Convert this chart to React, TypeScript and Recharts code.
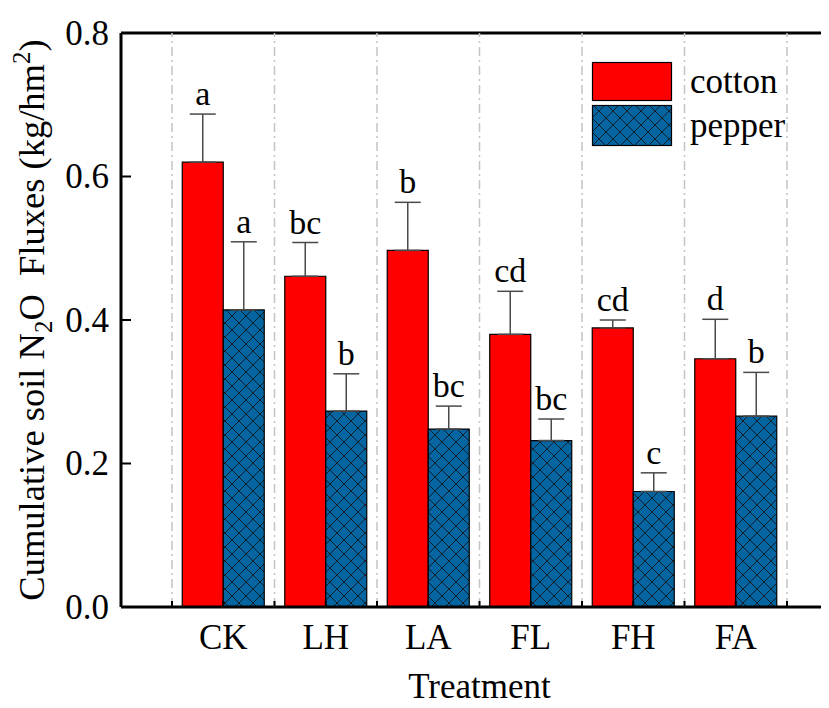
import React from 'react';
import {
  BarChart,
  Bar,
  XAxis,
  YAxis,
  ErrorBar,
  LabelList,
  ReferenceLine,
  Label,
} from 'recharts';

// Treatments on the x axis
const treatments = ['CK', 'LH', 'LA', 'FL', 'FH', 'FA'];

// Cumulative soil N2O fluxes (kg/hm2) and their standard errors
const cottonFlux = [0.62, 0.461, 0.497, 0.38, 0.389, 0.346];
const cottonErr = [0.067, 0.047, 0.067, 0.06, 0.011, 0.055];
const pepperFlux = [0.414, 0.273, 0.248, 0.232, 0.161, 0.266];
const pepperErr = [0.095, 0.052, 0.032, 0.03, 0.026, 0.061];

// Significance letters above each bar
const cottonLetters = ['a', 'bc', 'b', 'cd', 'cd', 'd'];
const pepperLetters = ['a', 'b', 'bc', 'bc', 'c', 'b'];

// Y axis ticks
const yTicks = [0, 0.2, 0.4, 0.6, 0.8];

// Series names shown in the legend
const seriesNames = ['cotton', 'pepper'];

const data = treatments.map((t, i) => ({
  treatment: t,
  cotton: cottonFlux[i],
  cottonErr: [0, cottonErr[i]],
  cottonLetter: cottonLetters[i],
  pepper: pepperFlux[i],
  pepperErr: [0, pepperErr[i]],
  pepperLetter: pepperLetters[i],
}));

const FONT = '"Liberation Serif", "Times New Roman", serif';
const RED = '#ff0000';
const BLUE = '#0565a1';
const HATCH_LINE = '#13202c';
const CHART_W = 840;
const CHART_H = 700;
const MARGIN = { top: 25, right: 10, left: 0, bottom: 0 };

const HatchPattern = ({ id }: { id: string }) => (
  <pattern id={id} width={14} height={14} patternUnits="userSpaceOnUse">
    <rect width={14} height={14} fill={BLUE} />
    <path d="M-1,-1 L15,15 M15,-1 L-1,15" stroke={HATCH_LINE} strokeWidth={1} />
  </pattern>
);

const YTick = (props: any) => {
  const { x, y, payload } = props;
  return (
    <g>
      <line x1={x} x2={x + 10} y1={y} y2={y} stroke="#000" strokeWidth={2} />
      <text
        x={x - 12}
        y={y}
        dy="0.34em"
        textAnchor="end"
        fontSize={35}
        fontFamily={FONT}
        fill="#000"
      >
        {Number(payload.value).toFixed(1)}
      </text>
    </g>
  );
};

const XTick = (props: any) => {
  const { x, y, payload, index, visibleTicksCount } = props;
  const half = payload && payload.offset ? payload.offset : 51.25;
  const edges = [x - half];
  if (index === (visibleTicksCount ?? treatments.length) - 1) edges.push(x + half);
  return (
    <g>
      {edges.map((ex) => (
        <g key={ex}>
          <line
            x1={ex}
            x2={ex}
            y1={y}
            y2={MARGIN.top}
            stroke="#c4c4c4"
            strokeWidth={1.5}
            strokeDasharray="9 4 2 4"
          />
          <line x1={ex} x2={ex} y1={y} y2={y - 6} stroke="#000" strokeWidth={2} />
        </g>
      ))}
      <line x1={x} x2={x} y1={y} y2={y - 6} stroke="#000" strokeWidth={2} />
      <text
        x={x}
        y={y + 42}
        textAnchor="middle"
        fontSize={35}
        fontFamily={FONT}
        fill="#000"
      >
        {payload.value}
      </text>
    </g>
  );
};

const makeLetter = (values: number[], errs: number[]) => (props: any) => {
  const { x, y, width, height, value, index } = props;
  const v = values[index];
  const pxPerUnit = Number(height) / v;
  const top = Number(y) - errs[index] * pxPerUnit;
  return (
    <text
      x={Number(x) + Number(width) / 2}
      y={top - 9}
      textAnchor="middle"
      fontSize={34}
      fontFamily={FONT}
      fill="#000"
    >
      {value}
    </text>
  );
};

const YTitle = (props: any) => {
  const vb = props.viewBox || {};
  const cx = 36;
  const cy = vb.y + vb.height / 2;
  return (
    <text
      x={cx}
      y={cy}
      transform={`rotate(-90, ${cx}, ${cy})`}
      textAnchor="middle"
      fontSize={36.5}
      fontFamily={FONT}
      fill="#000"
    >
      Cumulative soil N
      <tspan fontSize={25} dy={8}>
        2
      </tspan>
      <tspan dy={-8}>O{'\u00a0'} Fluxes (kg/hm</tspan>
      <tspan fontSize={25} dy={-14}>
        2
      </tspan>
      <tspan dy={14}>)</tspan>
    </text>
  );
};

const XTitle = (props: any) => {
  const vb = props.viewBox || {};
  return (
    <text
      x={vb.x + vb.width / 2}
      y={CHART_H - 10}
      textAnchor="middle"
      fontSize={35}
      fontFamily={FONT}
      fill="#000"
    >
      Treatment
    </text>
  );
};

const LegendBox = () => (
  <svg width={200} height={92} style={{ display: 'block', overflow: 'visible' }}>
    <defs>
      <HatchPattern id="hatchLegend" />
    </defs>
    <rect x={0.5} y={0.5} width={79} height={38} fill={RED} stroke="#000" strokeWidth={1.2} />
    <rect
      x={0.5}
      y={43.5}
      width={79}
      height={40}
      fill="url(#hatchLegend)"
      stroke="#000"
      strokeWidth={1.2}
    />
    <text x={98} y={31} fontSize={35} fontFamily={FONT} fill="#000">
      {seriesNames[0]}
    </text>
    <text x={98} y={75} fontSize={35} fontFamily={FONT} fill="#000">
      {seriesNames[1]}
    </text>
  </svg>
);

export default function App() {
  return (
    <div style={{ position: 'relative', width: 821, height: CHART_H, overflow: 'hidden' }}>
      <BarChart
        width={CHART_W}
        height={CHART_H}
        data={data}
        margin={MARGIN}
        barCategoryGap="10%"
        barGap={0}
      >
        <defs>
          <HatchPattern id="hatchBar" />
        </defs>
        <XAxis
          dataKey="treatment"
          height={101}
          padding={{ left: 51, right: 51 }}
          axisLine={{ stroke: '#000', strokeWidth: 3 }}
          tickLine={false}
          tickSize={0}
          tickMargin={0}
          tick={<XTick />}
          interval={0}
        >
          <Label content={<XTitle />} />
        </XAxis>
        <YAxis
          type="number"
          domain={[0, 0.8]}
          ticks={yTicks}
          width={113}
          axisLine={{ stroke: '#000', strokeWidth: 3 }}
          tickLine={false}
          tickSize={0}
          tickMargin={0}
          tick={<YTick />}
        >
          <Label content={<YTitle />} />
        </YAxis>
        <ReferenceLine y={0.8} stroke="#000" strokeWidth={3} />
        <Bar
          dataKey="cotton"
          name={seriesNames[0]}
          fill={RED}
          stroke="#000"
          strokeWidth={1.2}
          isAnimationActive={false}
        >
          <ErrorBar
            dataKey="cottonErr"
            direction="y"
            width={13}
            stroke="#4a4a4a"
            strokeWidth={1.5}
          />
          <LabelList
            dataKey="cottonLetter"
            content={makeLetter(cottonFlux, cottonErr)}
          />
        </Bar>
        <Bar
          dataKey="pepper"
          name={seriesNames[1]}
          fill="url(#hatchBar)"
          stroke="#000"
          strokeWidth={1.2}
          isAnimationActive={false}
        >
          <ErrorBar
            dataKey="pepperErr"
            direction="y"
            width={13}
            stroke="#4a4a4a"
            strokeWidth={1.5}
          />
          <LabelList
            dataKey="pepperLetter"
            content={makeLetter(pepperFlux, pepperErr)}
          />
        </Bar>
      </BarChart>
      <div style={{ position: 'absolute', left: 584, top: 54 }}>
        <LegendBox />
      </div>
    </div>
  );
}
